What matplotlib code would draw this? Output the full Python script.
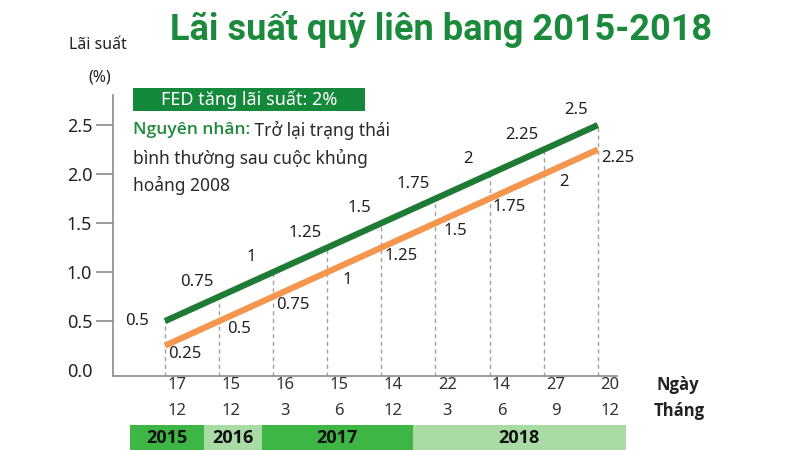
import matplotlib
matplotlib.use('Agg')
import matplotlib.pyplot as plt
from matplotlib.patches import Rectangle

plt.rcParams['font.family'] = ['Noto Sans', 'DejaVu Sans']
BOLD_FAM = ['Open Sans', 'DejaVu Sans']
TITLE_FAM = ['Roboto', 'DejaVu Sans']

# ---- data ----
days = ['17', '15', '16', '15', '14', '22', '14', '27', '20']
months = ['12', '12', '3', '6', '12', '3', '6', '9', '12']
upper_rate = [0.5, 0.75, 1, 1.25, 1.5, 1.75, 2, 2.25, 2.5]
lower_rate = [0.25, 0.5, 0.75, 1, 1.25, 1.5, 1.75, 2, 2.25]
years = ['2015', '2016', '2017', '2018']
yticks = [0.0, 0.5, 1.0, 1.5, 2.0, 2.5]

title = 'Lãi suất quỹ liên bang 2015-2018'
box_text = 'FED tăng lãi suất: 2%'
reason_head = 'Nguyên nhân:'
reason_lines = [' Trở lại trạng thái', 'bình thường sau cuộc khủng', 'hoảng 2008']

# ---- style / layout ----
GREEN = '#1e7b34'
ORANGE = '#f5964f'
TITLE_GREEN = '#1c8a3c'
BOX_GREEN = '#15893b'
DARK = '#222222'
year_spans = [(-0.65, 0.72), (0.72, 1.79), (1.79, 4.58), (4.58, 8.52)]
year_colors = ['#3db646', '#a9dca5', '#3db646', '#a9dca5']

W, H = 800, 450
fig = plt.figure(figsize=(8, 4.5), dpi=100)
ax = fig.add_axes([113 / W, 74 / H, 504 / W, 281 / H])

YMIN, YMAX = -0.06, 2.807
x = list(range(len(days)))

ax.vlines(x, YMIN, upper_rate, colors='#a0a0a0', linestyles=(0, (3, 2.5)),
          lw=1, zorder=1)
ax.plot(x, upper_rate, color=GREEN, lw=4.5, solid_capstyle='butt', zorder=3)
ax.plot(x, lower_rate, color=ORANGE, lw=4.5, solid_capstyle='butt', zorder=3)

for i, v in enumerate(upper_rate):
    off = (-28, 0) if i == 0 else (-22, 15)
    ax.annotate(f'{v:g}', (i, v), xytext=off, textcoords='offset pixels',
                ha='center', va='center', fontsize=12, color=DARK, zorder=4)
for i, v in enumerate(lower_rate):
    ax.annotate(f'{v:g}', (i, v), xytext=(20, -8), textcoords='offset pixels',
                ha='center', va='center', fontsize=12, color=DARK, zorder=4)

ax.set_xlim(-0.961, 8.355)
ax.set_ylim(YMIN, YMAX)
ax.set_xticks([])
ax.set_yticks(yticks, labels=[f'{t:.1f}' for t in yticks])
ax.tick_params(axis='y', length=12, width=1.2, color='#8a8a8a', pad=3,
               labelsize=13, labelcolor=DARK)
ax.yaxis.get_major_ticks()[0].tick1line.set_visible(False)
for s in ['top', 'right']:
    ax.spines[s].set_visible(False)
for s in ['left', 'bottom']:
    ax.spines[s].set_color('#8a8a8a')
    ax.spines[s].set_linewidth(1.2)

xt = ax.get_xaxis_transform()
for i, (d, m) in enumerate(zip(days, months)):
    ax.text(i + 0.22, -0.032, d, transform=xt, ha='center', va='center',
            fontsize=12, color='#333333', clip_on=False)
    ax.text(i + 0.22, -0.125, m, transform=xt, ha='center', va='center',
            fontsize=12, color='#333333', clip_on=False)
ax.text(9.48, -0.032, 'Ngày', transform=xt, ha='center', va='center',
        fontsize=12, weight='bold', family=BOLD_FAM, color=DARK, clip_on=False)
ax.text(9.5, -0.125, 'Tháng', transform=xt, ha='center', va='center',
        fontsize=12, weight='bold', family=BOLD_FAM, color=DARK, clip_on=False)

for yr, (x0, x1), c in zip(years, year_spans, year_colors):
    ax.add_patch(Rectangle((x0, -0.263), x1 - x0, 0.089, transform=xt,
                           facecolor=c, edgecolor='none', clip_on=False))
    ax.text((x0 + x1) / 2, -0.219, yr, transform=xt, ha='center', va='center',
            fontsize=13, weight='bold', family=BOLD_FAM, color='#111111',
            clip_on=False)

# title
fig.text(441 / W, 1 - 30 / H, title, ha='center', va='center', fontsize=26,
         weight='bold', color=TITLE_GREEN, family=TITLE_FAM)

# y label
fig.text(98 / W, 1 - 45 / H, 'Lãi suất', ha='center', va='center',
         fontsize=11.5, color=DARK)
fig.text(100 / W, 1 - 78 / H, '(%)', ha='center', va='center',
         fontsize=11.5, color=DARK)

# annotation box
fig.add_artist(Rectangle((133 / W, 1 - 111 / H), 232 / W, 23 / H,
                         transform=fig.transFigure, facecolor=BOX_GREEN,
                         edgecolor='none'))
fig.text(249 / W, 1 - 99.5 / H, box_text, ha='center', va='center',
         fontsize=13, color='white')

t1 = fig.text(133 / W, 1 - 130 / H, reason_head, ha='left', va='center',
              fontsize=12.5, weight='semibold', family=BOLD_FAM,
              color='#1f8a3a')
ax.annotate(reason_lines[0], xy=(1, 0.5), xycoords=t1, ha='left', va='center',
            fontsize=12.5, color='#2a2a2a', annotation_clip=False)
fig.text(133 / W, 1 - 158 / H, reason_lines[1], ha='left', va='center',
         fontsize=12.5, color='#2a2a2a')
fig.text(133 / W, 1 - 185 / H, reason_lines[2], ha='left', va='center',
         fontsize=12.5, color='#2a2a2a')

fig.savefig('out.png', dpi=100)
